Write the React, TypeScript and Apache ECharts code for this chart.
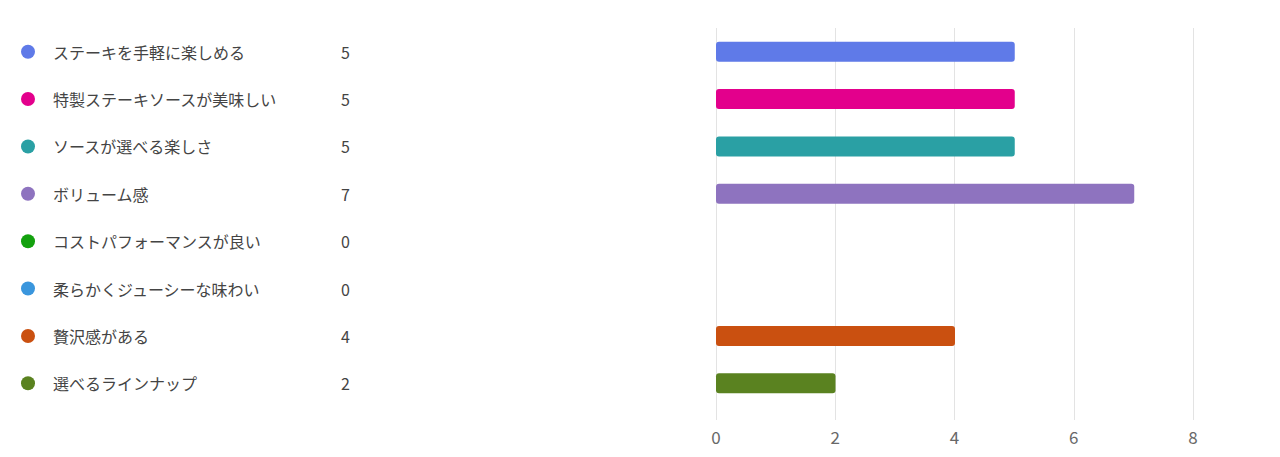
import React, { useEffect, useRef } from "react";
import * as echarts from "echarts";

const categories = [
  "ステーキを手軽に楽しめる",
  "特製ステーキソースが美味しい",
  "ソースが選べる楽しさ",
  "ボリューム感",
  "コストパフォーマンスが良い",
  "柔らかくジューシーな味わい",
  "贅沢感がある",
  "選べるラインナップ",
];
const values = [5, 5, 5, 7, 0, 0, 4, 2];
const colors = [
  "#5F7AE8",
  "#E3008C",
  "#2AA0A4",
  "#8E73BF",
  "#13A10E",
  "#3A96DD",
  "#CA5010",
  "#5A8220",
];
const xTicks = [0, 2, 4, 6, 8];

const FONT = "'Noto Sans CJK JP', 'Noto Sans', sans-serif";

export default function App() {
  const ref = useRef<HTMLDivElement>(null);
  useEffect(() => {
    if (!ref.current) return;
    const chart = echarts.init(ref.current, null, { renderer: "svg" });
    const rich: Record<string, any> = {
      name: {
        width: 288,
        padding: [0, 0, 0, 18],
        fontSize: 16,
        color: "#444444",
        fontFamily: FONT,
        align: "left",
      },
      val: {
        fontSize: 16,
        color: "#444444",
        fontFamily: FONT,
        align: "left",
      },
    };
    colors.forEach((c, i) => {
      rich["d" + i] = {
        width: 14,
        height: 14,
        borderRadius: 7,
        backgroundColor: c,
      };
    });
    const xMin = xTicks[0];
    const xMax = xTicks[xTicks.length - 1];
    chart.setOption({
      animation: false,
      grid: [
        { left: 716, right: 87, top: 28, bottom: 37, containLabel: false },
        { left: 716, right: 86, top: 28, bottom: 50, containLabel: false },
      ],
      xAxis: [
        {
          type: "value",
          gridIndex: 0,
          min: xMin,
          max: xMax,
          interval: 2,
          axisLine: { show: false },
          axisTick: { show: false },
          splitLine: { show: true, lineStyle: { color: "#E3E3E3", width: 1 } },
          axisLabel: {
            color: "#686868",
            fontSize: 17,
            fontFamily: FONT,
            margin: 8,
          },
        },
        {
          type: "value",
          gridIndex: 1,
          min: xMin,
          max: xMax,
          interval: 2,
          show: false,
        },
      ],
      yAxis: [
        {
          type: "category",
          gridIndex: 0,
          data: categories,
          show: false,
        },
        {
          type: "category",
          gridIndex: 1,
          data: categories,
          inverse: true,
          axisLine: { show: false },
          axisTick: { show: false },
          splitLine: { show: false },
          axisLabel: {
            align: "left",
            margin: 695,
            formatter: (v: string, i: number) =>
              `{d${i}|}{name|${v}}{val|${values[i]}}`,
            rich,
          },
        },
      ],
      series: [
        {
          type: "bar",
          xAxisIndex: 1,
          yAxisIndex: 1,
          barWidth: 20,
          data: values.map((v, i) => ({
            value: v,
            itemStyle: {
              color: colors[i],
              borderRadius: 3,
            },
          })),
        },
      ],
    });
    return () => chart.dispose();
  }, []);
  return (
    <div
      ref={ref}
      style={{
        position: "fixed",
        left: 0,
        top: 0,
        width: 1280,
        height: 457,
        background: "#ffffff",
      }}
    />
  );
}
